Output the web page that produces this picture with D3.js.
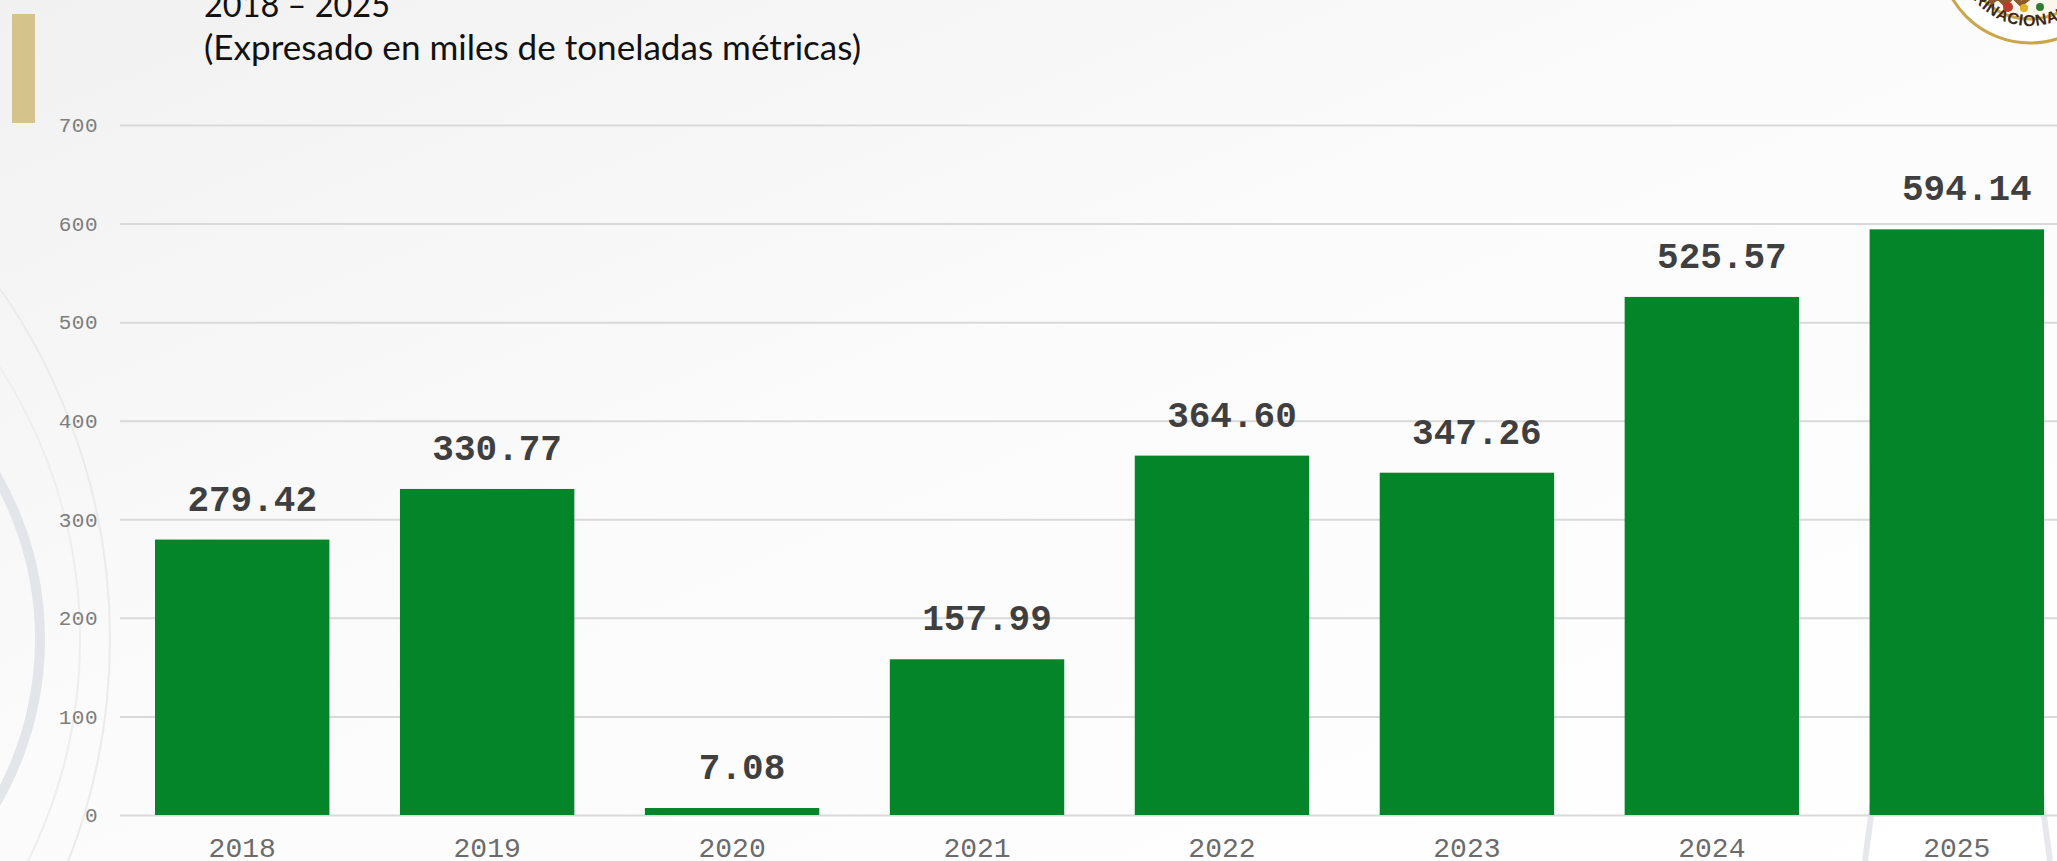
<!DOCTYPE html>
<meta charset="utf-8">
<title>Producción 2018 – 2025</title>
<style>
body { margin: 0; }
svg { display: block; }
.title { font-family: Lato, "Open Sans", sans-serif; font-size: 34px; fill: #111; }
.y-axis text { font: 21px "Liberation Mono", monospace; fill: #7d7d7d; letter-spacing: 0.5px; }
.x-axis text { font: 28px "Liberation Mono", monospace; fill: #6b6b6b; }
.value { font: bold 36px "Liberation Mono", monospace; fill: #3f3f3f; text-anchor: middle; }
</style>
<svg width="2057" height="861"></svg>
<script src="https://cdn.jsdelivr.net/npm/d3@7"></script>
<script>

var years = ["2018", "2019", "2020", "2021", "2022", "2023", "2024", "2025"];
var values = [279.42, 330.77, 7.08, 157.99, 364.60, 347.26, 525.57, 594.14];
var yTicks = [0, 100, 200, 300, 400, 500, 600, 700];
var titleLines = ["2018 – 2025", "(Expresado en miles de toneladas métricas)"];
var sealText = "ESTADO PLURINACIONAL DE BOLIVIA";

var svg = d3.select("svg"),
    width = +svg.attr("width"),
    height = +svg.attr("height");

// background
var defs = svg.append("defs");
var bg = defs.append("linearGradient").attr("id", "bg")
    .attr("x1", 0).attr("y1", 0).attr("x2", 1).attr("y2", 1);
bg.append("stop").attr("offset", "0%").attr("stop-color", "#f1f1f1");
bg.append("stop").attr("offset", "45%").attr("stop-color", "#fbfbfb");
bg.append("stop").attr("offset", "100%").attr("stop-color", "#ffffff");
svg.append("rect").attr("width", width).attr("height", height).attr("fill", "url(#bg)");

// watermark circles on the left
var marks = svg.append("g").attr("fill", "none");
marks.append("circle").attr("cx", -287).attr("cy", 639).attr("r", 327)
    .attr("stroke", "#e3e5e8").attr("stroke-width", 10);
marks.append("circle").attr("cx", -502).attr("cy", 639).attr("r", 612)
    .attr("stroke", "#ebebeb").attr("stroke-width", 2);
marks.append("circle").attr("cx", -420).attr("cy", 639).attr("r", 500)
    .attr("stroke", "#eeeeee").attr("stroke-width", 2);

// watermark derrick bottom right
var derrick = svg.append("g").attr("fill", "none").attr("stroke", "#e6e8eb").attr("stroke-width", 6);
derrick.append("path").attr("d", "M1865,861 L1905,560 L2010,560 L2050,861");
derrick.append("path").attr("d", "M1885,700 L2030,700 M1875,780 L2040,780 M1895,630 L2020,630");
derrick.append("path").attr("d", "M1880,540 q-10,60 0,120").attr("stroke-width", 10);

// gold side bar
svg.append("rect").attr("x", 12).attr("y", 14).attr("width", 23).attr("height", 109).attr("fill", "#d4c38b");

// title
svg.selectAll(".title").data(titleLines).enter().append("text")
    .attr("class", "title")
    .attr("x", 204)
    .attr("y", function(d, i) { return 17 + i * 43; })
    .attr("textLength", function(d, i) { return i ? 657 : 186; })
    .attr("lengthAdjust", "spacingAndGlyphs")
    .text(function(d) { return d; });

// seal top right (partly off the page)
var sr = 90, tr = 73;
var seal = svg.append("g").attr("transform", "translate(2030,-47)");
seal.append("circle").attr("r", sr).attr("fill", "#fff").attr("stroke", "#c9a649").attr("stroke-width", 3);
seal.append("circle").attr("r", sr - 24).attr("fill", "#fbf7ec").attr("stroke", "#c9a649").attr("stroke-width", 3);
var a0 = 240 * Math.PI / 180, a1 = -60 * Math.PI / 180;
defs.append("path").attr("id", "sealArc")
    .attr("d", "M" + tr * Math.cos(a0) + "," + tr * Math.sin(a0) +
               " A" + tr + "," + tr + " 0 1,0 " + tr * Math.cos(a1) + "," + tr * Math.sin(a1));
seal.append("text")
    .attr("font-family", "Liberation Sans, sans-serif").attr("font-weight", "bold")
    .attr("font-size", 16).attr("fill", "#3a2a1a").attr("letter-spacing", 0.5)
  .append("textPath").attr("href", "#sealArc").attr("startOffset", "46%").attr("text-anchor", "middle")
    .text(sealText);
seal.append("path").attr("d", "M-40,50 l8,-6 l7,7 l8,-8 l8,8 l9,-7")
    .attr("fill", "none").attr("stroke", "#8b5a2b").attr("stroke-width", 5);
seal.append("circle").attr("cx", -22).attr("cy", 54).attr("r", 5).attr("fill", "#c0392b");
seal.append("circle").attr("cx", -6).attr("cy", 55).attr("r", 4).attr("fill", "#e0b020");
seal.append("circle").attr("cx", 10).attr("cy", 54).attr("r", 4).attr("fill", "#2e7d32");

// scales
var x = d3.scaleBand().domain(years).range([155, 2044]).paddingInner(0.288).paddingOuter(0);
var y = d3.scaleLinear().domain([0, 700]).range([815, 125]);

// grid + y labels
var yAxis = svg.append("g")
    .attr("class", "y-axis")
    .attr("transform", "translate(120,0)")
    .call(d3.axisLeft(y).tickValues(yTicks).tickSize(-(width - 120)).tickPadding(22));
yAxis.select(".domain").remove();
yAxis.selectAll(".tick line").attr("stroke", "#d9d9d9").attr("stroke-width", 2);

// bars
svg.append("g").selectAll("rect")
    .data(values)
  .enter().append("rect")
    .attr("x", function(d, i) { return x(years[i]); })
    .attr("y", function(d) { return y(d); })
    .attr("width", x.bandwidth())
    .attr("height", function(d) { return y(0) - y(d); })
    .attr("fill", "#04852a");

// value labels
svg.append("g").selectAll("text")
    .data(values)
  .enter().append("text")
    .attr("class", "value")
    .attr("x", function(d, i) { return x(years[i]) + x.bandwidth() / 2 + 10; })
    .attr("y", function(d) { return y(d) - 29; })
    .text(d3.format(".2f"));

// x labels
var xAxis = svg.append("g")
    .attr("class", "x-axis")
    .attr("transform", "translate(0,815)")
    .call(d3.axisBottom(x).tickSize(0).tickPadding(22));
xAxis.select(".domain").remove();
xAxis.selectAll("text").attr("dy", null).attr("y", 42);

</script>
